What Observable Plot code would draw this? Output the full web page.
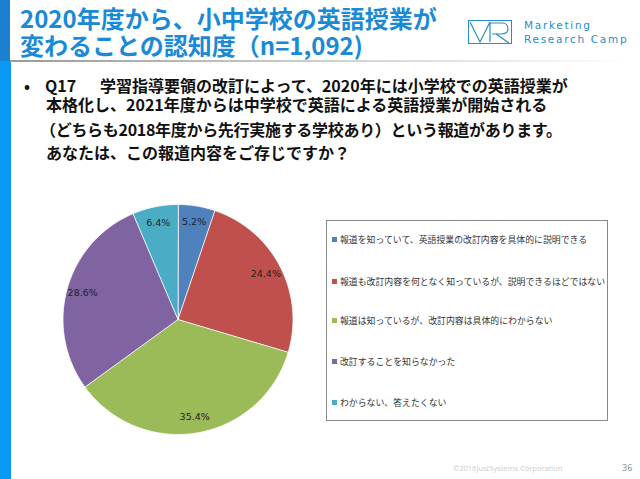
<!DOCTYPE html>
<html><head><meta charset="utf-8">
<script src="https://cdn.jsdelivr.net/npm/d3@7"></script>
<script src="https://cdn.jsdelivr.net/npm/@observablehq/plot@0.6"></script>
<style>
body{margin:0;width:640px;height:479px;overflow:hidden;background:#fff;font-family:"Noto Sans CJK JP","Noto Sans",sans-serif;position:relative}
.abs{position:absolute}
.tl{left:20px;color:#1a8ad6;font-weight:bold;font-size:24px;line-height:24px;white-space:nowrap}
#q{left:0;top:72px;font-weight:bold;font-size:16px;line-height:17px;color:#111;white-space:nowrap}
#legend{left:326px;top:220px;width:282px;height:201px;border:1px solid #888;box-sizing:border-box;background:#fff}
.li{position:absolute;left:5px;font-size:8.9px;color:#333;white-space:nowrap;line-height:10px}
.sw{display:inline-block;width:5px;height:5px;margin-right:3px;vertical-align:1px}
</style></head><body>
<div class="abs" style="left:0;top:0;width:10px;height:61px;background:#1a80cf"></div>
<div class="abs" style="left:0;top:61px;width:11px;height:418px;background:#0a98f2"></div>
<div class="abs" style="left:10px;top:60px;width:620px;height:2px;background:linear-gradient(to right,#9a9a9a,#d8d8d8 60%,#fff)"></div>
<div class="abs tl" style="top:6px">2020年度から、小中学校の英語授業が</div>
<div class="abs tl" style="top:33px">変わることの認知度（n=1,092)</div>
<div class="abs" style="left:468px;top:20px;width:44px;height:24px;border:1.3px solid #2a8cc8;box-sizing:border-box"></div>
<svg class="abs" style="left:468px;top:20px" width="45" height="25"><path d="M2,2 L12,22 L22,2 M22,2 L22,22 M22,3 L34,3 Q40,3 40,9 Q40,14 33,14 L24,14 M28,14 L41,23" fill="none" stroke="#2a8cc8" stroke-width="1.2"/></svg>
<div class="abs" style="left:524px;top:18px;color:#2a8cc8;font-family:'DejaVu Sans';font-size:10.5px;letter-spacing:1.7px;line-height:14px">Marketing<br>Research Camp</div>
<div id="q" class="abs">
<div class="abs" style="left:24px;top:5px">•</div>
<div class="abs" style="left:45px;top:5px">Q17</div>
<div class="abs" style="left:100px;top:5px">学習指導要領の改訂によって、2020年には小学校での英語授業が</div>
<div class="abs" style="left:46px;top:24px">本格化し、2021年度からは中学校で英語による英語授業が開始される</div>
<div class="abs" style="left:40px;top:49px;letter-spacing:-0.3px">（どちらも2018年度から先行実施する学校あり）という報道があります。</div>
<div class="abs" style="left:46px;top:72px">あなたは、この報道内容をご存じですか？</div>
</div>
<div id="chart" class="abs" style="left:0;top:190px"></div>
<div id="legend" class="abs"></div>
<div class="abs" style="left:453px;top:463px;font-size:7.5px;color:#ccc;font-family:'Open Sans'">©2016JustSystems Corporation</div>
<div class="abs" style="left:622px;top:461px;font-size:9px;color:#888;font-family:'Open Sans'">36</div>
<script>
const categories = [
  "報道を知っていて、英語授業の改訂内容を具体的に説明できる",
  "報道も改訂内容を何となく知っているが、説明できるほどではない",
  "報道は知っているが、改訂内容は具体的にわからない",
  "改訂することを知らなかった",
  "わからない、答えたくない"
];
const values = [5.2, 24.4, 35.4, 28.6, 6.4];
const colors = ["#4f81bd", "#c0504d", "#9bbb59", "#8064a2", "#4bacc6"];

const pie = d3.pie().sort(null).value(d => d)(values);
const poly = [];
const labels = [];
pie.forEach((a, i) => {
  poly.push({k: i, x: 0, y: 0});
  const n = Math.max(2, Math.ceil((a.endAngle - a.startAngle) * 60));
  for (let j = 0; j <= n; j++) {
    const t = a.startAngle + (a.endAngle - a.startAngle) * j / n;
    poly.push({k: i, x: Math.sin(t), y: Math.cos(t)});
  }
  const m = (a.startAngle + a.endAngle) / 2;
  labels.push({x: 0.86 * Math.sin(m), y: 0.86 * Math.cos(m), t: values[i].toFixed(1) + "%"});
});

const chart = Plot.plot({
  width: 320, height: 260,
  marginLeft: 62.5, marginRight: 27.5, marginTop: 14, marginBottom: 16,
  x: {domain: [-1, 1], axis: null},
  y: {domain: [-1, 1], axis: null},
  color: {domain: d3.range(categories.length), range: colors},
  marks: [
    Plot.line(poly, {x: "x", y: "y", z: "k", fill: d => d.k, stroke: "#fff", strokeWidth: 0.8, curve: "linear-closed"}),
    Plot.text(labels, {x: "x", y: "y", text: "t", fill: "#222", fontSize: 9.5, fontFamily: "DejaVu Sans"})
  ]
});
document.getElementById("chart").appendChild(chart);

const lg = document.getElementById("legend");
const tops = [14, 56, 95, 136, 177];
categories.forEach((c, i) => {
  const d = document.createElement("div");
  d.className = "li";
  d.style.top = tops[i] + "px";
  d.innerHTML = `<span class="sw" style="background:${colors[i]}"></span>${c}`;
  lg.appendChild(d);
});
</script>
</body></html>
